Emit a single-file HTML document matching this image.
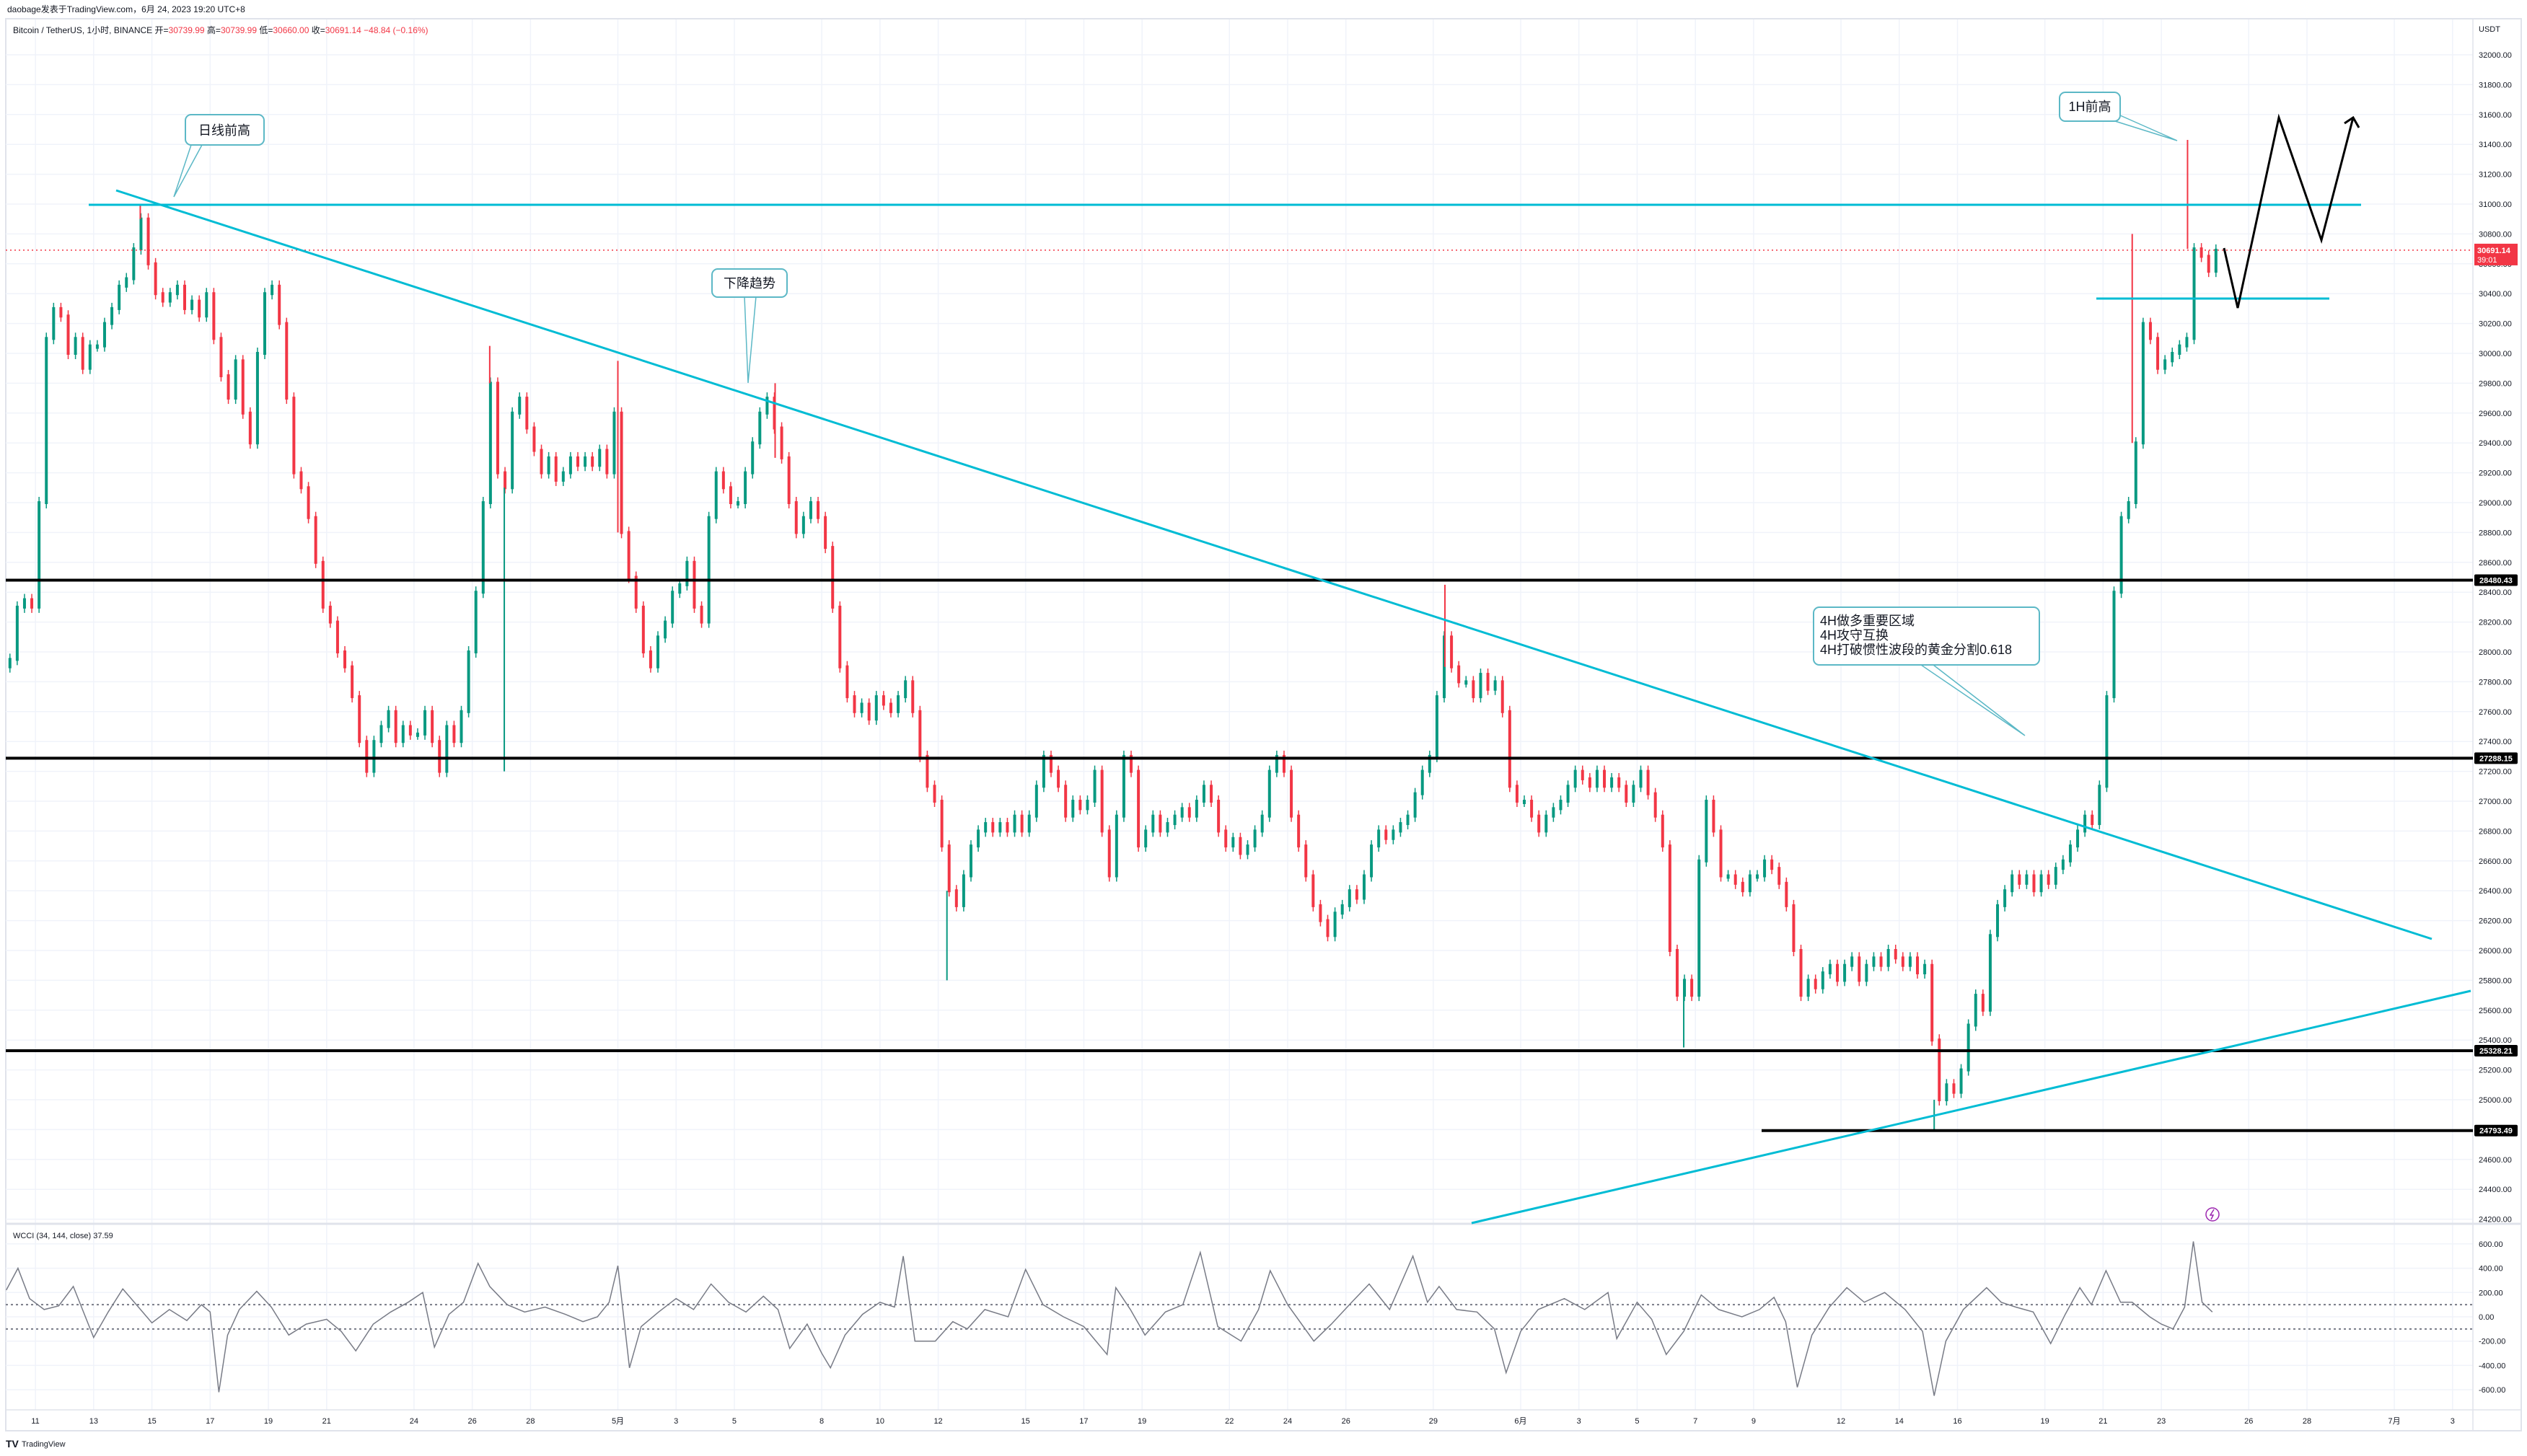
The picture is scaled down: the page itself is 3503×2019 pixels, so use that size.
<!DOCTYPE html>
<html><head><meta charset="utf-8">
<style>
html,body{margin:0;padding:0;background:#fff;}
svg{display:block;font-family:"Liberation Sans","Noto Sans CJK SC",sans-serif;}
</style></head>
<body>
<svg id="chart" width="3503" height="2019" viewBox="0 0 3503 2019" xmlns="http://www.w3.org/2000/svg">
  <rect x="0" y="0" width="3503" height="2019" fill="#ffffff"/>
  <text x="10" y="17" font-size="12" fill="#131722">daobage发表于TradingView.com，6月 24, 2023 19:20 UTC+8</text>
  <rect x="8" y="26" width="3487" height="1958" fill="none" stroke="#e0e3eb" stroke-width="2"/>
  <g id="grid"></g>
  <g id="candles"></g>
  <g id="wcci"></g>
  <g id="axes"></g>
  <g id="drawings"></g>
  <text x="18" y="46" font-size="12" fill="#131722">Bitcoin / TetherUS, 1小时, BINANCE  开=<tspan fill="#f23645">30739.99</tspan>  高=<tspan fill="#f23645">30739.99</tspan>  低=<tspan fill="#f23645">30660.00</tspan>  收=<tspan fill="#f23645">30691.14  −48.84 (−0.16%)</tspan></text>
  <text x="18" y="1717" font-size="11" fill="#131722">WCCI (34, 144, close)  37.59</text>
  <text x="3436" y="44" font-size="11" fill="#131722">USDT</text>
  <g>
    <text x="8" y="2007" font-size="14" font-weight="bold" fill="#131722">TV</text>
    <text x="30" y="2006" font-size="11" fill="#131722">TradingView</text>
  </g>
</svg>
<script>
// ---- data ----
const closes = [
27950,28300,28350,28300, 29000,30100,30300,30250, 30000,30100,29900,30050, 30050,30200,30300,30450,
30500,30700,30900,30600, 30400,30350,30400,30450, 30300,30350,30250,30400, 30100,29850,29700,29950,
29600,29400,30000,30400, 30450,30200,29700,29200, 29100,28900,28600,28300, 28200,28000,27900,27700,
27400,27200,27400,27500, 27600,27400,27500,27450, 27450,27600,27400,27200, 27500,27400,27600,28000,
28400,29000,29800,29200, 29100,29600,29700,29500, 29350,29200,29300,29150, 29200,29300,29250,29300,
29250,29350,29200,29600, 28800,28500,28300,28000, 27900,28100,28200,28400, 28450,28600,28300,28200,
28900,29200,29100,29000, 29000,29200,29400,29600, 29700,29500,29300,29000, 28800,28900,29000,28900,
28700,28300,27900,27700, 27600,27650,27550,27700, 27650,27600,27700,27800, 27600,27300,27100,27000,
26700,26400,26300,26500, 26700,26800,26850,26800, 26850,26800,26900,26800, 26900,27100,27300,27200,
27100,26900,27000,26950, 27000,27200,26800,26500, 26900,27300,27200,26700, 26800,26900,26800,26850,
26900,26950,26900,27000, 27100,27000,26800,26700, 26750,26650,26700,26800, 26900,27200,27300,27200,
26900,26700,26500,26300, 26200,26100,26250,26300, 26400,26350,26500,26700, 26800,26750,26800,26850,
26900,27050,27200,27300, 27700,28100,27900,27800, 27800,27700,27850,27750, 27800,27600,27100,27000,
27000,26900,26800,26900, 26950,27000,27100,27200, 27150,27100,27200,27100, 27150,27100,27000,27100,
27200,27050,26900,26700, 26000,25700,25800,25700, 26600,27000,26800,26500, 26500,26450,26400,26500,
26500,26600,26550,26450, 26300,26000,25700,25800, 25750,25850,25900,25800, 25900,25950,25800,25900,
25950,25900,26000,25950, 25900,25950,25850,25900, 25400,25000,25100,25050, 25200,25500,25700,25600,
26100,26300,26400,26500, 26450,26500,26400,26500, 26450,26550,26600,26700, 26800,26900,26850,27100,
27700,28400,28900,29000, 29400,30200,30100,29900, 29950,30000,30050,30100, 30700,30650,30550,30691.14
];
const firstOpen = 27900;
const spikeDays = [3.6, 15.6, 16.1, 20.0, 25.4, 31.3, 48.4, 56.6, 65.2, 72.0, 73.9];
const spikePrices = [31000, 30050, 27200, 29950, 29800, 25800, 28450, 25350, 24800, 30800, 31430];
const priceTicks = [24200,24400,24600,24800,25000,25200,25400,25600,25800,26000,26200,26400,26600,26800,27000,27200,27400,27600,27800,28000,28200,28400,28600,28800,29000,29200,29400,29600,29800,30000,30200,30400,30600,30800,31000,31200,31400,31600,31800,32000];
const dateDays = [0,2,4,6,8,10,13,15,17,20,22,24,27,29,31,34,36,38,41,43,45,48,51,53,55,57,59,62,64,66,69,71,73,76,78,81,83];
const dateLabels = ["11","13","15","17","19","21","24","26","28","5月","3","5","8","10","12","15","17","19","22","24","26","29","6月","3","5","7","9","12","14","16","19","21","23","26","28","7月","3"];
const levelPrices = [28480.43, 27288.15, 25328.21, 24793.49];
const wcciDays = [-1,-0.6,-0.2,0.3,0.8,1.3,2,2.5,3,3.5,4,4.6,5.2,5.7,6,6.3,6.6,7,7.6,8.1,8.7,9.3,10,10.5,11,11.6,12.2,12.8,13.3,13.7,14.2,14.7,15.2,15.6,16.2,16.8,17.5,18.2,18.8,19.3,19.7,20,20.4,20.8,21.4,22,22.6,23.2,23.8,24.4,25,25.5,25.9,26.5,27,27.3,27.8,28.4,29,29.5,29.8,30.2,30.9,31.5,32,32.6,33.4,34,34.6,35.3,36,36.8,37.1,37.6,38.1,38.8,39.4,40,40.6,41.4,42,42.4,43,43.9,44.5,45.2,45.8,46.5,47.3,47.8,48.2,48.8,49.5,50.1,50.5,51,51.6,52.5,53.2,54,54.3,55,55.5,56,56.6,57.2,57.8,58.6,59.2,59.7,60.1,60.5,61,61.6,62.2,62.8,63.5,64.2,64.8,65.2,65.6,66.2,67,67.5,68,68.6,69.2,69.7,70.2,70.6,71.1,71.6,72,72.6,73,73.4,73.8,74.1,74.4,74.75];
const wcciVals = [220,400,150,60,90,250,-170,40,230,90,-50,60,-30,100,40,-620,-150,60,210,80,-150,-60,-20,-120,-280,-60,40,120,200,-250,20,120,440,250,100,40,80,20,-40,0,120,420,-420,-80,40,150,60,270,120,40,170,60,-260,-60,-300,-420,-150,20,120,80,500,-200,-200,-40,-100,60,0,390,100,0,-80,-310,240,60,-150,40,100,530,-80,-200,60,380,100,-200,-60,120,270,60,500,120,250,60,40,-100,-460,-120,60,150,60,200,-180,120,-20,-310,-120,180,60,0,60,160,-40,-580,-150,80,240,120,200,60,-120,-650,-200,60,240,120,80,40,-220,20,240,100,380,120,120,0,-60,-100,80,620,120,40];
const wcciTicks = [600,400,200,0,-200,-400,-600];

// ---- scales ----
const X0 = 8, X1 = 3428;
function xOf(d){ return 49.1 + d*40.37; }
function yOf(p){ return 283 + (31000 - p)*0.207; }
function yW(v){ return 1826 - v*0.1685; }
const NS = "http://www.w3.org/2000/svg";
function mk(tag, attrs, parent){
  const el = document.createElementNS(NS, tag);
  for (const k in attrs) el.setAttribute(k, attrs[k]);
  parent.appendChild(el);
  return el;
}
const grid = document.getElementById('grid');
const axes = document.getElementById('axes');
const candles = document.getElementById('candles');
const wcci = document.getElementById('wcci');
const drawings = document.getElementById('drawings');

priceTicks.forEach(p => {
  const y = yOf(p);
  const gl = mk('line', {x1:X0, x2:X1, y1:y, y2:y, stroke:'#f0f3fa', 'stroke-width':1.5}, grid);
  
  
  const t = mk('text', {x:3436, y:y+4, 'font-size':11, fill:'#131722'}, axes);
  t.textContent = p.toFixed(2);
  
  
});
dateDays.forEach((d, i) => {
  const x = xOf(d);
  const gl = mk('line', {x1:x, x2:x, y1:27, y2:1955, stroke:'#f0f3fa', 'stroke-width':1.5}, grid);
  
  
  const t = mk('text', {x:x, y:1974, 'font-size':11, fill:'#131722', 'text-anchor':'middle'}, axes);
  t.textContent = dateLabels[i];
  
  
});
wcciTicks.forEach(v => {
  const y = yW(v);
  const gl = mk('line', {x1:X0, x2:X1, y1:y, y2:y, stroke:'#f0f3fa', 'stroke-width':1.5}, grid);
  
  
  const t = mk('text', {x:3436, y:y+4, 'font-size':11, fill:'#131722'}, axes);
  t.textContent = v.toFixed(2);
  
  
});
const sep = mk('line', {x1:8, x2:3495, y1:1697, y2:1697, stroke:'#e0e3eb', 'stroke-width':3}, axes);


const ax = mk('line', {x1:X1, x2:X1, y1:26, y2:1984, stroke:'#e0e3eb', 'stroke-width':1.5}, axes);


const bx = mk('line', {x1:8, x2:3495, y1:1955, y2:1955, stroke:'#e0e3eb', 'stroke-width':1.5}, axes);



// candles
closes.forEach((c, i) => {
  const o = i === 0 ? firstOpen : closes[i-1];
  const d = -1 + i*0.25 + 0.125;
  const x = xOf(d);
  const y1 = yOf(Math.max(o, c)), y2 = yOf(Math.min(o, c));
  const up = c >= o;
  const col = up ? '#089981' : '#f23645';
  const wk = mk('line', {x1:x, x2:x, y1:y1-8, y2:y2+8, stroke:col, 'stroke-width':1.5}, candles);
  
  
  const r = mk('rect', {x:x-2, y:y1-2, width:4, height:Math.max(2, y2-y1)+4, fill: col}, candles);
  
  
});
spikeDays.forEach((d, i) => {
  const idx = Math.min(closes.length-1, Math.max(0, Math.round((d+1)/0.25)));
  const ref = closes[idx];
  const x = xOf(d);
  const w = mk('line', {x1:x, x2:x, y1:yOf(ref), y2:yOf(spikePrices[i]), stroke: spikePrices[i] > ref ? '#f23645' : '#089981', 'stroke-width':2}, candles);
  
  
});

const cp = closes[closes.length-1];
const cpl = mk('line', {x1:X0, x2:X1, y1:yOf(cp), y2:yOf(cp), stroke:'#f23645', 'stroke-width':1.5, 'stroke-dasharray':'2,4'}, drawings);



levelPrices.forEach((p, i) => {
  const y = yOf(p);
  const startX = i === 3 ? 2442 : X0;
  const l = mk('line', {x1:startX, x2:X1, y1:y, y2:y, stroke:'#000', 'stroke-width':4}, drawings);
  
  
  const b = mk('rect', {x:3430, y:y-8, width:60, height:16, fill:'#000', rx:2}, axes);
  
  
  const t = mk('text', {x:3460, y:y+4, 'font-size':11, 'font-weight':'bold', fill:'#fff', 'text-anchor':'middle'}, axes);
  t.textContent = p.toFixed(2);
  
  
});
{
  const y = yOf(cp);
  const b = mk('rect', {x:3430, y:y-9, width:60, height:30, fill:'#f23645'}, axes);
  
  
  const t = mk('text', {x:3434, y:y+4, 'font-size':11, 'font-weight':'bold', fill:'#fff'}, axes);
  t.textContent = cp.toFixed(2);
  
  
  const t2 = mk('text', {x:3434, y:y+17, 'font-size':11, fill:'#fff'}, axes);
  t2.textContent = '39:01';
  
  
}

{
  [100, -100].forEach(v => {
    const l = mk('line', {x1:X0, x2:X1, y1:yW(v), y2:yW(v), stroke:'#787b86', 'stroke-width':2, 'stroke-dasharray':'3,4'}, wcci);
    
    
  });
  const pts = wcciDays.map((d, i) => xOf(d).toFixed(1) + ',' + yW(wcciVals[i]).toFixed(1)).join(' ');
  const pl = mk('polyline', {points:pts, fill:'none', stroke:'#787b86', 'stroke-width':1.5}, wcci);
  
  
}
</script>
<script>
(function(){
  const g = document.getElementById('drawings');
  g.insertAdjacentHTML('beforeend', `
  <line x1="123" y1="284" x2="3273" y2="284" stroke="#00bcd4" stroke-width="3"/>
  <line x1="161" y1="264" x2="3371" y2="1302" stroke="#00bcd4" stroke-width="3"/>
  <line x1="2040" y1="1696" x2="3425" y2="1374" stroke="#00bcd4" stroke-width="3"/>
  <line x1="2906" y1="414" x2="3229" y2="414" stroke="#00bcd4" stroke-width="3"/>
  <polyline points="3083,344 3102,427 3159,163 3218,333 3262,163" fill="none" stroke="#000" stroke-width="3"/>
  <polyline points="3250,171 3262,163 3270,177" fill="none" stroke="#000" stroke-width="3"/>
  <g>
    <path d="M265,201 L241,273 L280,201" fill="#fff" stroke="#5cb8c6" stroke-width="1.5"/>
    <rect x="257" y="159" width="109" height="42" rx="8" fill="#fff" stroke="#5cb8c6" stroke-width="2"/>
    <text x="311" y="187" font-size="18" text-anchor="middle" fill="#131722">日线前高</text>
  </g>
  <g>
    <path d="M1032,411 L1037,531 L1048,411" fill="#fff" stroke="#5cb8c6" stroke-width="1.5"/>
    <rect x="987" y="373" width="104" height="39" rx="8" fill="#fff" stroke="#5cb8c6" stroke-width="2"/>
    <text x="1039" y="399" font-size="18" text-anchor="middle" fill="#131722">下降趋势</text>
  </g>
  <g>
    <path d="M2932,168 L3018,195 L2939,160" fill="#fff" stroke="#5cb8c6" stroke-width="1.5"/>
    <rect x="2855" y="128" width="84" height="40" rx="8" fill="#fff" stroke="#5cb8c6" stroke-width="2"/>
    <text x="2897" y="154" font-size="18" text-anchor="middle" fill="#131722">1H前高</text>
  </g>
  <g>
    <path d="M2663,922 L2807,1020 L2680,922" fill="#fff" stroke="#5cb8c6" stroke-width="1.5"/>
    <rect x="2514" y="842" width="313" height="80" rx="8" fill="#fff" stroke="#5cb8c6" stroke-width="2"/>
    <text x="2523" y="867" font-size="18" fill="#131722">4H做多重要区域</text>
    <text x="2523" y="887" font-size="18" fill="#131722">4H攻守互换</text>
    <text x="2523" y="907" font-size="18" fill="#131722">4H打破惯性波段的黄金分割0.618</text>
  </g>
  <g>
    <circle cx="3067" cy="1684" r="9" fill="#fff" stroke="#9c27b0" stroke-width="1.5"/>
    <path d="M3069,1677 L3064,1685 L3068,1685 L3065,1691" fill="none" stroke="#9c27b0" stroke-width="1.5"/>
  </g>`);
})();
</script>
</body></html>
